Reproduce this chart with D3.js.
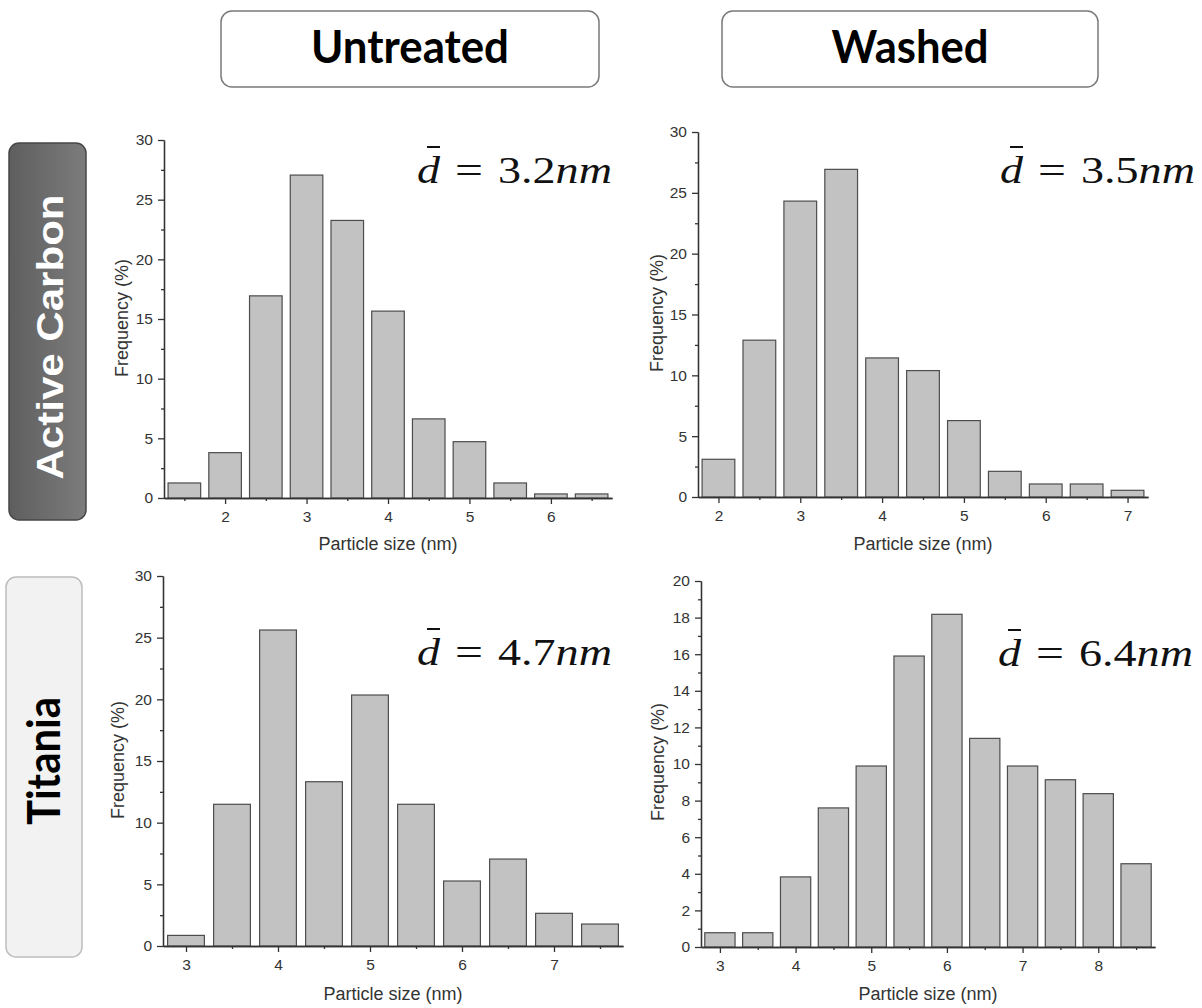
<!DOCTYPE html>
<html>
<head>
  <meta charset="UTF-8">
  <style>
    body { margin: 0; background: #fff; }
    svg { display: block; }
    .axis text { font-family: "Liberation Sans", Arial, sans-serif; font-size: 15.5px; fill: #333; }
    .axis path, .axis line { stroke: #333; stroke-width: 1.3; }
    .label { font-family: "Liberation Sans", Arial, sans-serif; font-size: 18px; fill: #333; }
    .mean { font-family: "Liberation Serif", "Times New Roman", serif; font-size: 38px; fill: #111; }
  </style>
</head>
<body>
  <svg></svg>
<script src="https://d3js.org/d3.v7.min.js"></script>
<script>

let width = 1202,
    height = 1008;

// data (bin centre in nm, frequency in %)
let acUntreatedBins = [1.5, 2, 2.5, 3, 3.5, 4, 4.5, 5, 5.5, 6, 6.5];
let acUntreatedFreq = [1.26, 3.80, 16.94, 27.06, 23.26, 15.66, 6.63, 4.72, 1.26, 0.34, 0.34];

let acWashedBins = [2, 2.5, 3, 3.5, 4, 4.5, 5, 5.5, 6, 6.5, 7];
let acWashedFreq = [3.10, 12.89, 24.32, 26.93, 11.43, 10.39, 6.28, 2.11, 1.07, 1.07, 0.55];

let tiUntreatedBins = [3, 3.5, 4, 4.5, 5, 5.5, 6, 6.5, 7, 7.5];
let tiUntreatedFreq = [0.86, 11.49, 25.62, 13.32, 20.35, 11.49, 5.27, 7.05, 2.65, 1.78];

let tiWashedBins = [3, 3.5, 4, 4.5, 5, 5.5, 6, 6.5, 7, 7.5, 8, 8.5];
let tiWashedFreq = [0.78, 0.78, 3.83, 7.60, 9.89, 15.90, 18.18, 11.40, 9.89, 9.14, 8.38, 4.55];

let meanSizes = ["3.2", "3.5", "4.7", "6.4"];

let xTicksAcU = [2, 3, 4, 5, 6],
    xTicksAcW = [2, 3, 4, 5, 6, 7],
    xTicksTiU = [3, 4, 5, 6, 7],
    xTicksTiW = [3, 4, 5, 6, 7, 8];
let yTicks30 = [0, 5, 10, 15, 20, 25, 30],
    yTicks20 = [0, 2, 4, 6, 8, 10, 12, 14, 16, 18, 20];

let columnTitles = ["Untreated", "Washed"];
let rowTitles = ["Active Carbon", "Titania"];

let binWidth = 0.4;

let svg = d3.select("svg")
    .attr("width", width)
    .attr("height", height);

// layout of the four panels
let panels = [
  {bins: acUntreatedBins, freq: acUntreatedFreq, xTicks: xTicksAcU, yTicks: yTicks30, yMax: 30, yMinorStep: 2.5,
   xDomain: [1.25, 6.75], xRange: [164, 612], yRange: [498, 140], mean: meanSizes[0],
   meanRight: 612, meanBase: 183, ylab: [122, 318], xlab: 550},
  {bins: acWashedBins, freq: acWashedFreq, xTicks: xTicksAcW, yTicks: yTicks30, yMax: 30, yMinorStep: 2.5,
   xDomain: [1.75, 7.25], xRange: [698, 1148], yRange: [497, 132], mean: meanSizes[1],
   meanRight: 1195, meanBase: 183, ylab: [657, 313], xlab: 550},
  {bins: tiUntreatedBins, freq: tiUntreatedFreq, xTicks: xTicksTiU, yTicks: yTicks30, yMax: 30, yMinorStep: 2.5,
   xDomain: [2.75, 7.75], xRange: [163, 623], yRange: [946, 576], mean: meanSizes[2],
   meanRight: 612, meanBase: 665, ylab: [118, 760], xlab: 1000},
  {bins: tiWashedBins, freq: tiWashedFreq, xTicks: xTicksTiW, yTicks: yTicks20, yMax: 20, yMinorStep: 1,
   xDomain: [2.75, 8.75], xRange: [701, 1155], yRange: [947, 581], mean: meanSizes[3],
   meanRight: 1193, meanBase: 666, ylab: [658, 762], xlab: 1000}
];

panels.forEach(p => {
  let x = d3.scaleLinear().domain(p.xDomain).range(p.xRange);
  let y = d3.scaleLinear().domain([0, p.yMax]).range(p.yRange);
  let g = svg.append("g");

  let xMinor = d3.range(Math.ceil(p.xDomain[0] * 2) / 2, p.xDomain[1], 0.5)
      .filter(v => !p.xTicks.includes(v));
  let yMinor = d3.range(0, p.yMax, p.yMinorStep)
      .filter(v => !p.yTicks.includes(v));

  g.append("g")
    .attr("class", "axis")
    .attr("transform", "translate(0," + p.yRange[0] + ")")
    .call(d3.axisBottom(x).tickValues(xMinor).tickSize(3).tickSizeOuter(0).tickFormat(""));

  g.append("g")
    .attr("class", "axis")
    .attr("transform", "translate(" + p.xRange[0] + ",0)")
    .call(d3.axisLeft(y).tickValues(yMinor).tickSize(3).tickSizeOuter(0).tickFormat(""));

  g.selectAll("rect")
    .data(p.bins)
    .enter()
    .append("rect")
      .attr("x", d => x(d - binWidth / 2))
      .attr("width", d => x(d + binWidth / 2) - x(d - binWidth / 2))
      .attr("y", (d, i) => y(p.freq[i]))
      .attr("height", (d, i) => y(0) - y(p.freq[i]))
      .attr("fill", "#c2c2c2")
      .attr("stroke", "#4d4d4d")
      .attr("stroke-width", 1.2);

  g.append("g")
    .attr("class", "axis")
    .attr("transform", "translate(0," + p.yRange[0] + ")")
    .call(d3.axisBottom(x).tickValues(p.xTicks).tickFormat(d3.format("d"))
      .tickSize(6).tickPadding(7).tickSizeOuter(0));

  g.append("g")
    .attr("class", "axis")
    .attr("transform", "translate(" + p.xRange[0] + ",0)")
    .call(d3.axisLeft(y).tickValues(p.yTicks).tickFormat(d3.format("d"))
      .tickSize(6).tickPadding(5).tickSizeOuter(0));

  g.append("text")
    .attr("class", "label")
    .attr("x", (p.xRange[0] + p.xRange[1]) / 2)
    .attr("y", p.xlab)
    .attr("text-anchor", "middle")
    .text("Particle size (nm)");

  g.append("text")
    .attr("class", "label")
    .attr("transform", "translate(" + p.ylab[0] + "," + p.ylab[1] + ") rotate(-90)")
    .attr("dy", "0.35em")
    .attr("text-anchor", "middle")
    .text("Frequency (%)");

  drawMean(g, p.meanRight, p.meanBase, p.mean);
});

function drawMean(g, right, base, value) {
  let x0 = right - 195;
  g.append("text")
    .attr("class", "mean")
    .attr("x", x0)
    .attr("y", base)
    .attr("font-style", "italic")
    .attr("textLength", 23)
    .attr("lengthAdjust", "spacingAndGlyphs")
    .text("d");
  g.append("line")
    .attr("x1", x0 + 10).attr("x2", x0 + 23)
    .attr("y1", base - 36).attr("y2", base - 36)
    .attr("stroke", "#111")
    .attr("stroke-width", 2);
  g.append("text")
    .attr("class", "mean")
    .attr("x", x0 + 38)
    .attr("y", base)
    .attr("textLength", 28)
    .attr("lengthAdjust", "spacingAndGlyphs")
    .text("=");
  let t = g.append("text")
    .attr("class", "mean")
    .attr("x", x0 + 81)
    .attr("y", base)
    .attr("textLength", 114)
    .attr("lengthAdjust", "spacingAndGlyphs");
  t.append("tspan").text(value);
  t.append("tspan").attr("font-style", "italic").text("nm");
}

// column headers
let headers = [
  {x: 221, w: 378, cx: 410, tl: 198},
  {x: 722, w: 376, cx: 910, tl: 157}
];
headers.forEach((h, i) => {
  svg.append("rect")
    .attr("x", h.x).attr("y", 11)
    .attr("width", h.w).attr("height", 76)
    .attr("rx", 11)
    .attr("fill", "#fff")
    .attr("stroke", "#7a7a7a")
    .attr("stroke-width", 1.5);
  svg.append("text")
    .attr("x", h.cx).attr("y", 63)
    .attr("text-anchor", "middle")
    .attr("font-family", "Lato, 'Open Sans', sans-serif")
    .attr("font-weight", 700)
    .attr("font-size", 45)
    .attr("textLength", h.tl)
    .attr("lengthAdjust", "spacingAndGlyphs")
    .text(columnTitles[i]);
});

// row labels
let defs = svg.append("defs");
let grad = defs.append("linearGradient")
    .attr("id", "darkbox")
    .attr("x1", "0").attr("x2", "1").attr("y1", "0").attr("y2", "0");
grad.append("stop").attr("offset", "0").attr("stop-color", "#5e5e5e");
grad.append("stop").attr("offset", "1").attr("stop-color", "#7c7c7c");

svg.append("rect")
  .attr("x", 9).attr("y", 143)
  .attr("width", 77).attr("height", 377)
  .attr("rx", 10)
  .attr("fill", "url(#darkbox)")
  .attr("stroke", "#474747")
  .attr("stroke-width", 1.5);

svg.append("text")
  .attr("transform", "translate(63,337) rotate(-90)")
  .attr("text-anchor", "middle")
  .attr("font-family", "'Liberation Sans', Arial, sans-serif")
  .attr("font-weight", 700)
  .attr("font-size", 37)
  .attr("fill", "#fff")
  .attr("textLength", 285)
  .attr("lengthAdjust", "spacingAndGlyphs")
  .text(rowTitles[0]);

svg.append("rect")
  .attr("x", 6).attr("y", 577)
  .attr("width", 76).attr("height", 380)
  .attr("rx", 10)
  .attr("fill", "#f2f2f2")
  .attr("stroke", "#bdbdbd")
  .attr("stroke-width", 1.5);

svg.append("text")
  .attr("transform", "translate(60,761) rotate(-90)")
  .attr("text-anchor", "middle")
  .attr("font-family", "Lato, 'Open Sans', sans-serif")
  .attr("font-weight", 700)
  .attr("font-size", 45)
  .attr("fill", "#000")
  .attr("textLength", 128)
  .attr("lengthAdjust", "spacingAndGlyphs")
  .text(rowTitles[1]);

</script>
</body>
</html>
